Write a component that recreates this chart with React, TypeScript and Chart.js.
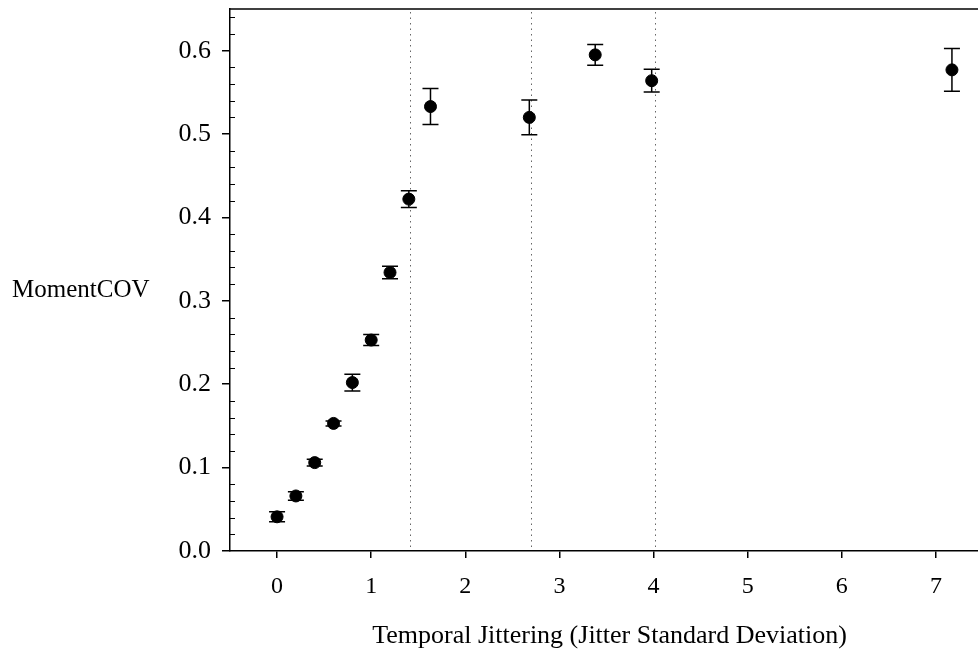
import React, { useEffect, useRef } from "react";
import { Chart, registerables } from "chart.js";

Chart.register(...registerables);

// Data
const xValues = [0, 0.2, 0.4, 0.6, 0.8, 1.0, 1.2, 1.4, 1.63, 2.68, 3.38, 3.98, 7.17];
const yValues = [0.041, 0.066, 0.106, 0.153, 0.202, 0.253, 0.334, 0.422, 0.533, 0.52, 0.595, 0.564, 0.577];
const yErrors = [0.006, 0.005, 0.004, 0.003, 0.01, 0.0066, 0.0074, 0.01, 0.0216, 0.0208, 0.0124, 0.0136, 0.0256];
const dottedLines = [1.41, 2.7, 4.01];
const xTicks = [0, 1, 2, 3, 4, 5, 6, 7];
const yTicks = [0, 0.1, 0.2, 0.3, 0.4, 0.5, 0.6];
const yMinorTicks = [0.02, 0.04, 0.06, 0.08, 0.12, 0.14, 0.16, 0.18, 0.22, 0.24, 0.26, 0.28, 0.32, 0.34, 0.36, 0.38, 0.42, 0.44, 0.46, 0.48, 0.52, 0.54, 0.56, 0.58, 0.62, 0.64];
const xTitle = "Temporal Jittering (Jitter Standard Deviation)";
const yTitle = "MomentCOV";

const FONT = "'Liberation Serif', 'Times New Roman', serif";

const decorPlugin = {
  id: "decor",
  beforeDatasetsDraw(chart: any) {
    const { ctx, chartArea, scales } = chart;
    const xs = scales.x;
    const ys = scales.y;
    ctx.save();
    // dotted vertical lines
    ctx.strokeStyle = "#666";
    ctx.lineWidth = 1;
    ctx.setLineDash([1.5, 4]);
    dottedLines.forEach((v) => {
      const px = Math.round(xs.getPixelForValue(v)) + 0.5;
      ctx.beginPath();
      ctx.moveTo(px, chartArea.top + 3);
      ctx.lineTo(px, chartArea.bottom);
      ctx.stroke();
    });
    ctx.setLineDash([]);
    // error bars
    ctx.strokeStyle = "#000";
    ctx.lineWidth = 1.5;
    xValues.forEach((xv, i) => {
      const px = xs.getPixelForValue(xv);
      const top = ys.getPixelForValue(yValues[i] + yErrors[i]);
      const bot = ys.getPixelForValue(yValues[i] - yErrors[i]);
      ctx.beginPath();
      ctx.moveTo(px, top);
      ctx.lineTo(px, bot);
      ctx.moveTo(px - 8, top);
      ctx.lineTo(px + 8, top);
      ctx.moveTo(px - 8, bot);
      ctx.lineTo(px + 8, bot);
      ctx.stroke();
    });
    ctx.restore();
  },
  afterDraw(chart: any) {
    const { ctx, chartArea, scales } = chart;
    const ys = scales.y;
    ctx.save();
    ctx.strokeStyle = "#000";
    ctx.lineWidth = 1.5;
    // top border
    ctx.beginPath();
    ctx.moveTo(chartArea.left, chartArea.top);
    ctx.lineTo(chartArea.right, chartArea.top);
    ctx.stroke();
    // minor inward ticks on y axis
    ctx.lineWidth = 1;
    yMinorTicks.forEach((v) => {
      const py = Math.round(ys.getPixelForValue(v)) + 0.5;
      ctx.beginPath();
      ctx.moveTo(chartArea.left, py);
      ctx.lineTo(chartArea.left + 5, py);
      ctx.stroke();
    });
    // titles
    ctx.fillStyle = "#000";
    ctx.font = `25px ${FONT}`;
    ctx.textAlign = "left";
    ctx.textBaseline = "alphabetic";
    ctx.fillText(yTitle, 12, 297);
    ctx.font = `26px ${FONT}`;
    ctx.textAlign = "center";
    ctx.fillText(xTitle, (chartArea.left + chartArea.right) / 2 + 3, 643);
    ctx.restore();
  },
};

export default function App() {
  const canvasRef = useRef<HTMLCanvasElement | null>(null);

  useEffect(() => {
    if (!canvasRef.current) return;
    const chart = new Chart(canvasRef.current, {
      type: "scatter",
      data: {
        datasets: [
          {
            data: xValues.map((x, i) => ({ x, y: yValues[i] })),
            backgroundColor: "#000",
            borderColor: "#000",
            borderWidth: 1,
            pointRadius: 6,
            pointHoverRadius: 6,
          },
        ],
      },
      options: {
        responsive: false,
        animation: false,
        events: [],
        layout: { padding: { top: 9, right: 2, left: 0, bottom: 0 } },
        plugins: {
          legend: { display: false },
          tooltip: { enabled: false },
          title: { display: false },
        },
        scales: {
          x: {
            type: "linear",
            min: -0.5,
            max: 7.5,
            afterFit: (s: any) => {
              s.height = 99;
              s.paddingLeft = 0;
              s.paddingRight = 0;
            },
            afterBuildTicks: (s: any) => {
              s.ticks = xTicks.map((v) => ({ value: v }));
            },
            ticks: {
              font: { family: FONT, size: 24 },
              color: "#000",
              padding: 14,
              callback: (v: any) => String(v),
              maxRotation: 0,
            },
            grid: {
              display: true,
              drawOnChartArea: false,
              drawTicks: true,
              tickLength: 7,
              color: "#000",
              lineWidth: 1.5,
            },
            border: { display: true, color: "#000", width: 1.5 },
          },
          y: {
            type: "linear",
            min: 0,
            max: 0.65,
            afterFit: (s: any) => {
              s.width = 230;
              s.paddingTop = 0;
              s.paddingBottom = 0;
            },
            afterBuildTicks: (s: any) => {
              s.ticks = yTicks.map((v) => ({ value: v }));
            },
            ticks: {
              font: { family: FONT, size: 26 },
              color: "#000",
              padding: 11,
              callback: (v: any) => Number(v).toFixed(1),
            },
            grid: {
              display: true,
              drawOnChartArea: false,
              drawTicks: true,
              tickLength: 8,
              color: "#000",
              lineWidth: 1.5,
            },
            border: { display: true, color: "#000", width: 1.5 },
          },
        },
      },
      plugins: [decorPlugin],
    });
    return () => chart.destroy();
  }, []);

  return (
    <div
      style={{
        position: "fixed",
        left: 0,
        top: 0,
        width: 978,
        height: 650,
        overflow: "hidden",
        background: "#fff",
      }}
    >
      <canvas ref={canvasRef} width={990} height={650} style={{ display: "block" }} />
    </div>
  );
}
